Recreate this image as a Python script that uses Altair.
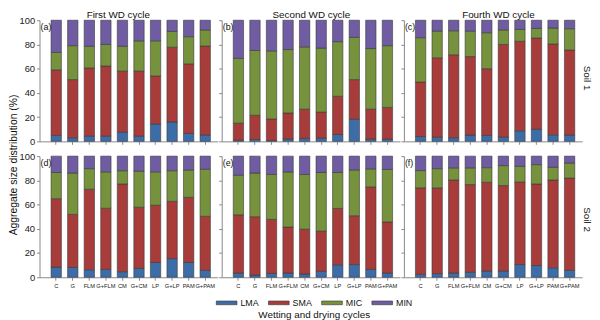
import altair as alt
import pandas as pd

treatments = ["C", "G", "FLM", "G+FLM", "CM", "G+CM", "LP", "G+LP", "PAM", "G+PAM"]
fractions = ["LMA", "SMA", "MIC", "MIN"]
colors = ["#3D6DA8", "#A83C3A", "#76923C", "#6F5CA2"]
cycles = ["First WD cycle", "Second WD cycle", "Fourth WD cycle"]
soils = ["Soil 1", "Soil 2"]
letters = ["(a)", "(b)", "(c)", "(d)", "(e)", "(f)"]

# Panel (a) Soil 1, first cycle
a_LMA = [4.9, 3.0, 4.3, 4.3, 7.6, 4.3, 14.4, 16.0, 6.5, 5.2]
a_SMA = [54.1, 48.0, 56.3, 57.9, 50.4, 53.7, 39.6, 61.7, 57.5, 73.6]
a_MIC = [14.4, 28.0, 17.9, 17.8, 20.5, 25.0, 29.0, 13.1, 22.4, 13.2]
a_MIN = [26.6, 21.0, 21.5, 20.0, 21.5, 17.0, 17.0, 9.2, 13.6, 8.0]
# Panel (b) Soil 1, second cycle
b_LMA = [1.0, 1.6, 0.8, 2.0, 2.4, 2.7, 5.7, 18.2, 1.9, 1.9]
b_SMA = [14.0, 19.9, 17.7, 21.4, 24.2, 21.5, 31.5, 32.8, 24.7, 26.1]
b_MIC = [53.5, 53.5, 56.2, 52.4, 51.4, 52.8, 45.1, 34.9, 50.0, 51.0]
b_MIN = [31.5, 25.0, 25.3, 24.2, 22.0, 23.0, 17.7, 14.1, 23.4, 21.0]
# Panel (c) Soil 1, fourth cycle
c_LMA = [4.0, 3.5, 3.0, 5.2, 4.9, 3.5, 8.7, 10.0, 5.4, 5.2]
c_SMA = [45.0, 65.5, 68.5, 64.8, 55.1, 76.5, 73.9, 75.3, 75.0, 70.3]
c_MIC = [36.6, 22.0, 19.8, 21.0, 29.7, 12.0, 9.8, 7.9, 13.1, 17.5]
c_MIN = [14.4, 9.0, 8.7, 9.0, 10.3, 8.0, 7.6, 6.8, 6.5, 7.0]
# Panel (d) Soil 2, first cycle
d_LMA = [8.4, 8.1, 6.2, 6.5, 4.6, 7.3, 12.2, 15.4, 12.2, 5.7]
d_SMA = [56.5, 43.8, 66.5, 50.5, 72.4, 50.5, 47.3, 47.3, 53.8, 44.6]
d_MIC = [21.6, 34.1, 17.0, 30.0, 11.0, 29.8, 27.5, 25.3, 22.6, 38.9]
d_MIN = [13.5, 14.0, 10.3, 13.0, 12.0, 12.4, 13.0, 12.0, 11.4, 10.8]
# Panel (e) Soil 2, second cycle
e_LMA = [3.5, 1.9, 3.2, 3.5, 2.7, 4.9, 10.3, 10.5, 6.5, 3.5]
e_SMA = [48.1, 48.1, 44.6, 37.9, 37.0, 33.2, 46.5, 40.3, 68.1, 42.2]
e_MIC = [32.7, 36.0, 37.1, 45.6, 45.2, 48.4, 29.7, 37.8, 14.9, 43.3]
e_MIN = [15.7, 14.0, 15.1, 13.0, 15.1, 13.5, 13.5, 11.4, 10.5, 11.0]
# Panel (f) Soil 2, fourth cycle
f_LMA = [2.4, 3.0, 3.5, 4.1, 5.1, 5.1, 10.5, 9.7, 7.8, 5.7]
f_SMA = [71.4, 70.8, 76.8, 72.4, 73.3, 70.6, 68.1, 67.3, 72.5, 76.2]
f_MIC = [14.3, 15.9, 10.0, 13.8, 12.1, 16.5, 13.0, 16.0, 10.5, 12.4]
f_MIN = [11.9, 10.3, 9.7, 9.7, 9.5, 7.8, 8.4, 7.0, 9.2, 5.7]

panels = [
    [a_LMA, a_SMA, a_MIC, a_MIN],
    [b_LMA, b_SMA, b_MIC, b_MIN],
    [c_LMA, c_SMA, c_MIC, c_MIN],
    [d_LMA, d_SMA, d_MIC, d_MIN],
    [e_LMA, e_SMA, e_MIC, e_MIN],
    [f_LMA, f_SMA, f_MIC, f_MIN],
]

title_x = [80, 91, 96]

legend = alt.Legend(
    orient="none", legendX=179, legendY=276, direction="horizontal",
    title="Wetting and drying cycles", titleOrient="bottom", titleAnchor="middle",
    titleFontSize=10, titleFontWeight="normal", titleColor="#111", titlePadding=2,
    labelFontSize=9, labelColor="#111", labelOffset=3,
    symbolType="M-1,-0.18H1V0.18H-1Z", symbolSize=441,
    symbolStrokeColor="#333", symbolStrokeWidth=0.6, columnPadding=8,
)


def make_panel(i):
    row, col = divmod(i, 3)
    recs = []
    for fi, f in enumerate(fractions):
        for t, v in zip(treatments, panels[i][fi]):
            recs.append({"Treatment": t, "Fraction": f, "Value": v, "Order": fi})
    df = pd.DataFrame(recs)
    bars = alt.Chart(df).mark_bar(stroke="#3a3a3a", strokeWidth=0.6).encode(
        x=alt.X("Treatment:N", sort=treatments,
                scale=alt.Scale(paddingInner=0.375, paddingOuter=0.571, align=0.61),
                axis=alt.Axis(title=None, labels=(row == 1), labelAngle=0, labelFontSize=5.8,
                              labelColor="#222", labelOverlap=False, labelPadding=2,
                              tickSize=3, tickColor="#888", domainColor="#888")),
        y=alt.Y("Value:Q", stack="zero", scale=alt.Scale(domain=[0, 100], nice=False),
                axis=alt.Axis(title=None, values=[0, 20, 40, 60, 80, 100], labels=(col == 0),
                              grid=False, labelFontSize=9.5, labelColor="#222", labelPadding=2,
                              tickSize=3, tickColor="#888", domainColor="#888")),
        color=alt.Color("Fraction:N", scale=alt.Scale(domain=fractions, range=colors), legend=legend),
        order=alt.Order("Order:Q"),
    )
    lab = alt.Chart(pd.DataFrame({"label": [letters[i]]})).mark_text(
        align="left", baseline="top", fontSize=9, color="#111"
    ).encode(x=alt.value(1), y=alt.value(3), text="label:N")
    layers = [bars, lab]
    if row == 0:
        ttl = alt.Chart(pd.DataFrame({"t": [cycles[col]]})).mark_text(
            align="center", baseline="middle", fontSize=10, color="#111"
        ).encode(x=alt.value(title_x[col]), y=alt.value(-5), text="t:N")
        layers.append(ttl)
    return alt.layer(*layers).properties(width=181, height=123)


rows = []
for r in range(2):
    rows.append(alt.hconcat(
        *[make_panel(r * 3 + c) for c in range(3)], spacing=0,
        title=alt.TitleParams(soils[r], orient="right", anchor="middle", fontSize=10,
                              fontWeight="normal", color="#111", offset=0),
    ))

chart = alt.vconcat(*rows, spacing=5).properties(
    title=alt.TitleParams("Aggregate size distribution (%)", orient="left", anchor="middle",
                          fontSize=10.5, fontWeight="normal", color="#111", offset=0),
    padding={"left": 0, "top": 0, "right": 0, "bottom": 0},
).configure(font="Liberation Sans").configure_view(stroke=None)

chart.save("out.html", embed_options={"renderer": "svg", "actions": False})
